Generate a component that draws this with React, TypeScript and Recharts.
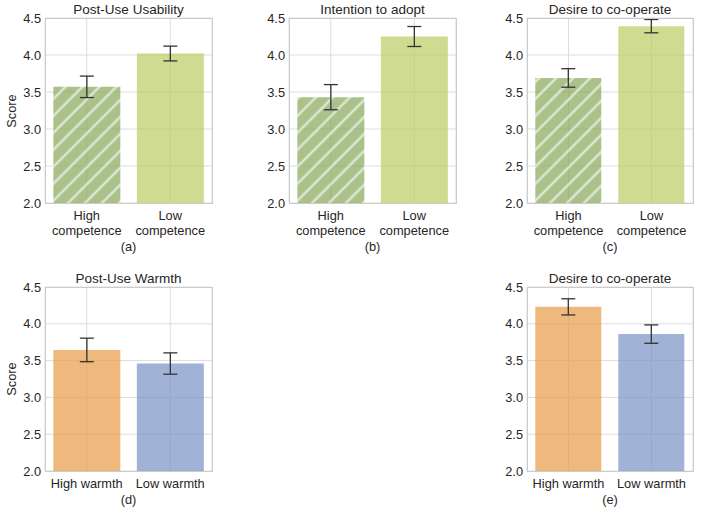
import React from "react"
import { Bar, BarChart, CartesianGrid, Cell, ErrorBar, XAxis, YAxis } from "recharts"

// categories
const competenceCats = ["High competence", "Low competence"]
const warmthCats = ["High warmth", "Low warmth"]

// means and half-width of the error bars
const usabilityMean = [3.57, 4.02]
const usabilityErr = [0.145, 0.1]
const adoptMean = [3.43, 4.25]
const adoptErr = [0.17, 0.135]
const coopCompMean = [3.69, 4.39]
const coopCompErr = [0.125, 0.09]
const warmthMean = [3.645, 3.46]
const warmthErr = [0.16, 0.145]
const coopWarmMean = [4.23, 3.86]
const coopWarmErr = [0.11, 0.125]

const yTicks = [2.0, 2.5, 3.0, 3.5, 4.0, 4.5]

const FONT = "'Liberation Sans', Arial, Helvetica, sans-serif"
const TEXT = "#262626"
const GREEN_HATCH = "#86a958"
const GREEN = "#b9cc63"
const ORANGE = "#e89a44"
const BLUE = "#7792c4"

const YW = 45 // y axis width
const MT = 10 // top margin
const XH = 60 // x axis height
const TICK_FS = 12.8
const TITLE_FS = 13.5

function CatTick(props: any) {
  const { x, y, payload, twoLine } = props
  const lines = twoLine ? String(payload.value).split(" ") : [String(payload.value)]
  return (
    <text x={x} y={y} textAnchor="middle" fill={TEXT} fontSize={TICK_FS} fontFamily={FONT}>
      {lines.map((l, i) => (
        <tspan key={i} x={x} dy={i === 0 ? 16.5 : 15}>
          {l}
        </tspan>
      ))}
    </text>
  )
}

type PanelProps = {
  id: string
  title: string
  label: string
  cats: string[]
  means: number[]
  errs: number[]
  colors: string[]
  hatchFirst?: boolean
  twoLine?: boolean
  score?: boolean
  px: number
  py: number
  pw: number
  ph: number
  labelY: number
}

function Panel(p: PanelProps) {
  const data = p.cats.map((c, i) => ({ cat: c, mean: p.means[i], err: p.errs[i] }))
  const w = p.pw + YW + 5
  const h = p.ph + MT + XH
  return (
    <>
      <div
        style={{
          position: "absolute",
          left: p.px - 40,
          width: p.pw + 80,
          top: p.py - 16,
          height: 16,
          lineHeight: "16px",
          textAlign: "center",
          fontSize: TITLE_FS,
          color: TEXT,
          fontFamily: FONT,
        }}
      >
        {p.title}
      </div>
      <div style={{ position: "absolute", left: p.px - YW, top: p.py - MT }}>
        <BarChart width={w} height={h} data={data} margin={{ top: MT, right: 5, left: 0, bottom: 0 }} barCategoryGap="10%">
          <defs>
            <pattern id={`hatch-${p.id}`} patternUnits="userSpaceOnUse" width={12} height={12} patternTransform="rotate(45)">
              <rect x={0} y={0} width={12} height={12} fill={GREEN_HATCH} fillOpacity={0.7} />
              <line x1={6} y1={0} x2={6} y2={12} stroke="#ffffff" strokeOpacity={0.6} strokeWidth={2.5} />
            </pattern>
          </defs>
          <CartesianGrid stroke="#dddddd" strokeWidth={1} />
          <XAxis
            dataKey="cat"
            height={XH}
            axisLine={false}
            tickLine={false}
            tickSize={0}
            tickMargin={0}
            interval={0}
            tick={<CatTick twoLine={p.twoLine} />}
          />
          <YAxis
            width={YW}
            domain={[2, 4.5]}
            ticks={yTicks}
            allowDataOverflow
            axisLine={false}
            tickLine={false}
            tickSize={0}
            tickMargin={4}
            tickFormatter={(v: number) => v.toFixed(1)}
            tick={{ fill: TEXT, fontSize: TICK_FS, fontFamily: FONT }}
          />
          <Bar dataKey="mean" isAnimationActive={false}>
            {data.map((d, i) => (
              <Cell
                key={d.cat}
                fill={i === 0 && p.hatchFirst ? `url(#hatch-${p.id})` : p.colors[i]}
                fillOpacity={i === 0 && p.hatchFirst ? 1 : 0.7}
              />
            ))}
            <ErrorBar dataKey="err" width={7} stroke="#333333" strokeWidth={1.3} direction="y" isAnimationActive={false} />
          </Bar>
        </BarChart>
      </div>
      <div
        style={{
          position: "absolute",
          left: p.px,
          top: p.py,
          width: p.pw + 1,
          height: p.ph + 1,
          boxSizing: "border-box",
          border: "1px solid #cccccc",
          pointerEvents: "none",
        }}
      />
      {p.score && (
        <div
          style={{
            position: "absolute",
            left: 12 - 30,
            width: 60,
            top: p.py + p.ph / 2 - 8,
            height: 16,
            lineHeight: "16px",
            textAlign: "center",
            transform: "rotate(-90deg)",
            fontSize: TICK_FS,
            color: TEXT,
            fontFamily: FONT,
          }}
        >
          Score
        </div>
      )}
      <div
        style={{
          position: "absolute",
          left: p.px - 20,
          width: p.pw + 40,
          top: p.labelY - 8,
          height: 16,
          lineHeight: "16px",
          textAlign: "center",
          fontSize: TICK_FS,
          color: TEXT,
          fontFamily: FONT,
        }}
      >
        {p.label}
      </div>
    </>
  )
}

export default function App() {
  return (
    <div style={{ position: "absolute", left: 0, top: 0, width: 706, height: 508, background: "#fff", overflow: "hidden" }}>
      <Panel id="a" title="Post-Use Usability" label="(a)" cats={competenceCats} means={usabilityMean} errs={usabilityErr}
        colors={[GREEN_HATCH, GREEN]} hatchFirst twoLine score px={45} py={18} pw={167} ph={185} labelY={247} />
      <Panel id="b" title="Intention to adopt" label="(b)" cats={competenceCats} means={adoptMean} errs={adoptErr}
        colors={[GREEN_HATCH, GREEN]} hatchFirst twoLine px={289} py={18} pw={167} ph={185} labelY={247} />
      <Panel id="c" title="Desire to co-operate" label="(c)" cats={competenceCats} means={coopCompMean} errs={coopCompErr}
        colors={[GREEN_HATCH, GREEN]} hatchFirst twoLine px={527} py={18} pw={166} ph={185} labelY={247} />
      <Panel id="d" title="Post-Use Warmth" label="(d)" cats={warmthCats} means={warmthMean} errs={warmthErr}
        colors={[ORANGE, BLUE]} score px={45} py={287} pw={167} ph={184} labelY={500} />
      <Panel id="e" title="Desire to co-operate" label="(e)" cats={warmthCats} means={coopWarmMean} errs={coopWarmErr}
        colors={[ORANGE, BLUE]} px={527} py={287} pw={166} ph={184} labelY={500} />
    </div>
  )
}
